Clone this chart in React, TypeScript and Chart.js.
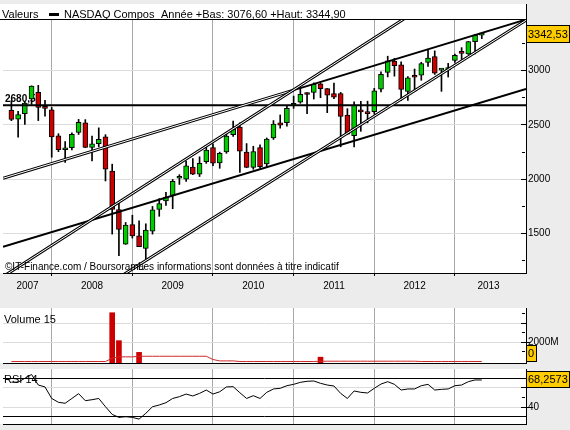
import React, { useEffect, useRef } from 'react';
import { Chart, registerables } from 'chart.js';

Chart.register(...registerables);

const FONT = '"Liberation Sans", Arial, sans-serif';

// ---------------- data ----------------
const months = [
  '2007-07', '2007-08', '2007-09', '2007-10', '2007-11', '2007-12',
  '2008-01', '2008-02', '2008-03', '2008-04', '2008-05', '2008-06', '2008-07', '2008-08', '2008-09', '2008-10', '2008-11', '2008-12',
  '2009-01', '2009-02', '2009-03', '2009-04', '2009-05', '2009-06', '2009-07', '2009-08', '2009-09', '2009-10', '2009-11', '2009-12',
  '2010-01', '2010-02', '2010-03', '2010-04', '2010-05', '2010-06', '2010-07', '2010-08', '2010-09', '2010-10', '2010-11', '2010-12',
  '2011-01', '2011-02', '2011-03', '2011-04', '2011-05', '2011-06', '2011-07', '2011-08', '2011-09', '2011-10', '2011-11', '2011-12',
  '2012-01', '2012-02', '2012-03', '2012-04', '2012-05', '2012-06', '2012-07', '2012-08', '2012-09', '2012-10', '2012-11', '2012-12',
  '2013-01', '2013-02', '2013-03', '2013-04', '2013-05',
];

const opens = [
  2635, 2554, 2605, 2741, 2800, 2660,
  2640, 2400, 2271, 2290, 2430, 2520, 2293, 2326, 2390, 2075, 1720, 1400,
  1580, 1476, 1360, 1520, 1720, 1800, 1850, 2008, 2000, 2110, 2045, 2160,
  2290, 2150, 2250, 2410, 2480, 2250, 2109, 2290, 2140, 2380, 2520, 2520,
  2680, 2710, 2790, 2800, 2880, 2835, 2790, 2790, 2590, 2400, 2625, 2622,
  2622, 2830, 2985, 3090, 3055, 2810, 2945, 2960, 3077, 3130, 3005, 3010,
  3095, 3165, 3155, 3268, 3329,
];

const highs = [
  2724, 2626, 2716, 2861, 2865, 2727,
  2661, 2419, 2346, 2426, 2551, 2549, 2396, 2473, 2410, 2138, 1792, 1600,
  1667, 1615, 1588, 1748, 1820, 1879, 1997, 2041, 2167, 2190, 2206, 2295,
  2326, 2249, 2424, 2535, 2520, 2328, 2303, 2317, 2380, 2540, 2592, 2675,
  2766, 2840, 2799, 2888, 2887, 2836, 2887, 2800, 2650, 2714, 2718, 2719,
  2838, 2989, 3134, 3114, 3083, 2945, 3016, 3078, 3196, 3183, 3020, 3068,
  3154, 3213, 3270, 3335, 3345,
];

const lows = [
  2539, 2386, 2505, 2690, 2540, 2581,
  2202, 2253, 2155, 2270, 2412, 2290, 2168, 2298, 1983, 1493, 1295, 1398,
  1456, 1377, 1265, 1493, 1657, 1757, 1727, 1951, 1979, 2041, 2024, 2145,
  2125, 2100, 2238, 2393, 2061, 2105, 2091, 2101, 2113, 2366, 2470, 2488,
  2653, 2700, 2603, 2739, 2751, 2613, 2743, 2298, 2414, 2298, 2441, 2519,
  2600, 2805, 2943, 2950, 2726, 2726, 2809, 2912, 3040, 2966, 2810, 2942,
  3077, 3105, 3150, 3154, 3296,
];

const closes = [
  2550, 2596, 2701, 2859, 2661, 2652,
  2389, 2271, 2279, 2413, 2523, 2293, 2326, 2368, 2092, 1721, 1536, 1577,
  1476, 1378, 1529, 1717, 1774, 1835, 1979, 2009, 2122, 2045, 2145, 2269,
  2147, 2238, 2398, 2461, 2257, 2109, 2255, 2114, 2369, 2507, 2498, 2653,
  2700, 2782, 2781, 2874, 2835, 2774, 2756, 2579, 2415, 2684, 2620, 2605,
  2814, 2967, 3092, 3046, 2827, 2935, 2940, 3067, 3116, 2977, 3010, 3020,
  3142, 3160, 3268, 3329, 3342.53,
];

// volume in millions
const volumes = [
  0, 0, 0, 0, 0, 0,
  0, 0, 0, 0, 0, 0, 0, 0, 0, 5080, 2170, 0,
  0, 950, 0, 0, 0, 0, 0, 0, 0, 0, 0, 0,
  0, 0, 0, 0, 0, 0, 0, 0, 0, 0, 0, 0,
  0, 0, 0, 0, 450, 0, 0, 0, 0, 0, 0, 0,
  0, 0, 0, 0, 0, 0, 0, 0, 0, 0, 0, 0,
  0, 0, 0, 0, 0,
];

const volumeMA15 = [
  0, 0, 0, 0, 0, 0,
  0, 0, 0, 0, 0, 0, 0, 0, 0, 339, 483, 483,
  483, 546, 546, 546, 546, 546, 546, 546, 546, 546, 546, 546,
  208, 63, 63, 63, 0, 0, 0, 0, 0, 0, 0, 0,
  0, 0, 0, 0, 30, 30, 30, 30, 30, 30, 30, 30,
  30, 30, 30, 30, 30, 30, 30, 0, 0, 0, 0, 0,
  0, 0, 0, 0, 0,
];

const rsi14 = [
  66, 66, 70, 74, 63, 61,
  49, 45, 44, 49, 54, 46.7, 47.7, 49, 40.4, 32.4, 29.3, 30,
  29.3, 27.5, 33.5, 40.4, 42.2, 44.6, 49, 50.9, 53.6, 51.6, 54.3, 57.8,
  53.6, 56, 61, 61.3, 55, 49, 51.9, 49, 55.4, 58.9, 59.6, 62.3,
  63.7, 65.8, 66.9, 67.2, 64.8, 63, 62, 54.3, 49, 56.8, 55.4, 54.7,
  59.6, 64, 66.5, 63.7, 57.8, 58.9, 58.9, 62.3, 63.7, 57.8, 58.5, 58.9,
  62.3, 63, 66.5, 68.3, 68.2573,
];

const yearLabels = ['2007', '2008', '2009', '2010', '2011', '2012', '2013'];
const yearLabelPos = [-3.6, 6, 18, 30, 42, 54, 65];
const yearStarts = [0, 12, 24, 36, 48, 60];

const priceTicks = [1500, 2000, 2500, 3000];
const priceMinorTicks = [1250, 1750, 2250, 2750, 3250];
const volumeTicks = [2000, 4000];
const volumeMinorTicks = [1000, 3000, 5000];
const rsiTicks = [30, 40, 60, 70];
const rsiMinorTicks = [50];

const levelValue = 2680.58;
const supportLine = [[-7.25, 1376], [70.58, 2833]];
const channelLeft = [[-7.25, 2008], [36, 2821]];
const channelRight = [[36, 2821], [70.58, 3472]];
const steepLine = [[-7.25, 1100], [70.58, 4202]];
const steepLine2 = [[10, 1092], [70.58, 3465]];

const legendLabel = 'Valeurs';
const seriesName = 'NASDAQ Compos';
const rangeText = 'Année +Bas: 3076,60 +Haut: 3344,90';
const copyright1 = '©IT-Finance.com / Boursorama';
const copyright2 = 'Les informations sont données à titre indicatif';

// ---------------- styling ----------------
const X_MIN = -7.25;
const X_MAX = 70.58;
const P_MIN = 1134;
const P_MAX = 3468;
const V_MIN = -156;
const V_MAX = 5573;
const R_MIN = 22.4;
const R_MAX = 79.7;

const GREEN = '#00cc00';
const RED = '#cc0000';
const GRID_V = '#a8a8a8';
const GRID_H = '#dcdcdc';
const BOX = '#ffcc00';
const BG = '#ececec';

function monthIndex(s: string) {
  const [y, m] = s.split('-').map(Number);
  return (y - 2008) * 12 + (m - 1);
}
const xs = months.map(monthIndex);

const fmt = (v: number, d: number) => v.toFixed(d).replace('.', ',');

function segment(pts: number[][]) {
  return pts.map(([x, y]) => ({ x, y }));
}

function lineDs(pts: number[][], color: string, width: number, order: number) {
  return {
    type: 'line',
    data: segment(pts),
    borderColor: color,
    borderWidth: width,
    pointRadius: 0,
    tension: 0,
    fill: false,
    borderCapStyle: 'butt',
    order,
  };
}

function xAxis(height: number, withLabels: boolean) {
  const ticksVals = withLabels
    ? [...yearStarts, ...yearLabelPos].sort((a, b) => a - b)
    : yearStarts.slice();
  return {
    type: 'linear',
    min: X_MIN,
    max: X_MAX,
    offset: false,
    afterBuildTicks: (s: any) => {
      s.ticks = ticksVals.map((v) => ({ value: v }));
    },
    afterFit: (s: any) => {
      s.height = height;
      s.paddingLeft = 0;
      s.paddingRight = 0;
    },
    ticks: {
      display: withLabels,
      autoSkip: false,
      maxRotation: 0,
      minRotation: 0,
      padding: 4,
      color: '#000',
      font: { family: FONT, size: 10 },
      callback: (v: any) => {
        const k = yearLabelPos.indexOf(v);
        return k >= 0 ? yearLabels[k] : '';
      },
    },
    grid: {
      offset: false,
      drawTicks: withLabels,
      tickLength: 3,
      lineWidth: 1,
      color: (c: any) => (c.tick && yearStarts.includes(c.tick.value) ? GRID_V : 'rgba(0,0,0,0)'),
      tickColor: (c: any) => (c.tick && yearStarts.includes(c.tick.value) ? '#000' : 'rgba(0,0,0,0)'),
    },
    border: { color: '#000', width: 1 },
  };
}

function yAxis(min: number, max: number, ticks: number[], label: (v: number) => string, gridColor: (v: number) => string) {
  return {
    type: 'linear',
    position: 'right',
    min,
    max,
    afterBuildTicks: (s: any) => {
      s.ticks = ticks.map((v) => ({ value: v }));
    },
    afterFit: (s: any) => {
      s.width = 44;
      s.paddingTop = 0;
      s.paddingBottom = 0;
    },
    ticks: {
      padding: 2,
      color: '#000',
      font: { family: FONT, size: 10 },
      callback: (v: any) => label(v),
    },
    grid: {
      drawTicks: false,
      lineWidth: 1,
      color: (c: any) => (c.tick ? gridColor(c.tick.value) : GRID_H),
    },
    border: { color: '#000', width: 1 },
  };
}

function innerTicks(ctx: CanvasRenderingContext2D, chart: any, majors: number[], minors: number[], outside: number[]) {
  const s = chart.scales.y;
  const r = chart.chartArea.right;
  ctx.fillStyle = '#000';
  majors.forEach((v) => {
    const y = Math.round(s.getPixelForValue(v) - 0.5);
    ctx.fillRect(r - 5, y, 5, 1);
  });
  outside.forEach((v) => {
    const y = Math.round(s.getPixelForValue(v) - 0.5);
    ctx.fillRect(r, y, 4, 1);
  });
  minors.forEach((v) => {
    const y = Math.round(s.getPixelForValue(v) - 0.5);
    ctx.fillRect(r - 4, y, 3, 1);
  });
}

function valueBox(ctx: CanvasRenderingContext2D, x: number, top: number, w: number, h: number, text: string) {
  ctx.fillStyle = BOX;
  ctx.fillRect(x, top, w, h);
  ctx.strokeStyle = '#000';
  ctx.lineWidth = 1;
  ctx.strokeRect(x + 0.5, top + 0.5, w - 1, h - 1);
  ctx.fillStyle = '#000';
  ctx.font = `11px ${FONT}`;
  ctx.textBaseline = 'middle';
  ctx.textAlign = 'left';
  ctx.fillText(text, x + 2, top + h / 2 + 0.5);
}

const mainPlugin = {
  id: 'mainDeco',
  beforeDraw(chart: any) {
    const { ctx, chartArea: a } = chart;
    ctx.save();
    ctx.fillStyle = '#fff';
    ctx.fillRect(0, 4, a.right, a.bottom - 4);
    ctx.fillStyle = '#000';
    ctx.font = `11px ${FONT}`;
    ctx.textBaseline = 'alphabetic';
    ctx.textAlign = 'left';
    ctx.fillText(legendLabel, 2, 18);
    ctx.fillRect(49, 13, 10, 3);
    ctx.fillText(seriesName, 64, 18);
    ctx.fillText(rangeText, 161, 18);
    ctx.fillRect(0, a.top - 1, a.right, 1);
    ctx.restore();
  },
  beforeDatasetsDraw(chart: any) {
    const { ctx } = chart;
    const y = chart.scales.y.getPixelForValue(levelValue);
    ctx.save();
    ctx.fillStyle = '#000';
    ctx.font = `bold 10px ${FONT}`;
    ctx.textBaseline = 'alphabetic';
    ctx.fillText(fmt(levelValue, 2), 5, y - 3);
    ctx.restore();
  },
  afterDatasetsDraw(chart: any) {
    const { ctx, chartArea: a } = chart;
    ctx.save();
    ctx.fillStyle = '#000';
    ctx.font = `10px ${FONT}`;
    ctx.textBaseline = 'alphabetic';
    ctx.fillText(copyright1, 5, a.bottom - 3);
    ctx.fillText(copyright2, 138, a.bottom - 3);
    ctx.fillRect(a.right, 4, 1, a.top - 4);
    innerTicks(ctx, chart, priceTicks, priceMinorTicks, []);
    const last = closes[closes.length - 1];
    const yb = chart.scales.y.getPixelForValue(last);
    valueBox(ctx, a.right, Math.round(yb - 9), 44, 18, fmt(last, 2));
    ctx.restore();
  },
};

const volPlugin = {
  id: 'volDeco',
  beforeDraw(chart: any) {
    const { ctx, chartArea: a } = chart;
    ctx.save();
    ctx.fillStyle = '#fff';
    ctx.fillRect(0, a.top, a.right, a.bottom - a.top);
    ctx.restore();
  },
  beforeDatasetsDraw(chart: any) {
    const { ctx, chartArea: a } = chart;
    ctx.save();
    ctx.fillStyle = '#000';
    ctx.font = `11px ${FONT}`;
    ctx.textBaseline = 'alphabetic';
    ctx.fillText('Volume 15', 4, a.top + 15);
    ctx.restore();
  },
  afterDatasetsDraw(chart: any) {
    const { ctx, chartArea: a } = chart;
    ctx.save();
    innerTicks(ctx, chart, volumeTicks, volumeMinorTicks, [2000]);
    const last = volumes[volumes.length - 1];
    const y0 = chart.scales.y.getPixelForValue(last);
    valueBox(ctx, a.right, Math.round(y0 - 16.5), 11, 17, String(last));
    ctx.restore();
  },
};

const rsiPlugin = {
  id: 'rsiDeco',
  beforeDraw(chart: any) {
    const { ctx, chartArea: a } = chart;
    ctx.save();
    ctx.fillStyle = '#fff';
    ctx.fillRect(0, a.top, a.right, a.bottom - a.top);
    ctx.restore();
  },
  beforeDatasetsDraw(chart: any) {
    const { ctx, chartArea: a } = chart;
    ctx.save();
    ctx.fillStyle = '#000';
    ctx.font = `11px ${FONT}`;
    ctx.textBaseline = 'alphabetic';
    ctx.fillText('RSI 14', 4, a.top + 14);
    ctx.restore();
  },
  afterDatasetsDraw(chart: any) {
    const { ctx, chartArea: a } = chart;
    ctx.save();
    innerTicks(ctx, chart, [40, 60], rsiMinorTicks, [40]);
    const last = rsi14[rsi14.length - 1];
    const y = chart.scales.y.getPixelForValue(last);
    valueBox(ctx, a.right, Math.round(y - 8.5), 44, 17, fmt(last, 4));
    ctx.restore();
  },
};

const baseOptions = {
  responsive: false,
  maintainAspectRatio: false,
  animation: false,
  devicePixelRatio: 1,
  events: [],
  plugins: { legend: { display: false }, tooltip: { enabled: false } },
};

export default function App() {
  const mainRef = useRef<HTMLCanvasElement>(null);
  const volRef = useRef<HTMLCanvasElement>(null);
  const rsiRef = useRef<HTMLCanvasElement>(null);

  useEffect(() => {
    const candleColors = closes.map((c, i) => (c >= opens[i] ? GREEN : RED));

    const main = new Chart(mainRef.current as HTMLCanvasElement, {
      type: 'bar',
      data: {
        datasets: [
          {
            type: 'bar',
            data: xs.map((x, i) => ({ x, y: [lows[i], highs[i]] })),
            backgroundColor: '#000',
            borderWidth: 0,
            barThickness: 1,
            grouped: false,
            order: 20,
          },
          {
            type: 'bar',
            data: xs.map((x, i) => ({ x, y: [opens[i], closes[i]] })),
            backgroundColor: candleColors,
            borderColor: '#000',
            borderWidth: 1,
            borderSkipped: false,
            barThickness: 5,
            minBarLength: 2,
            grouped: false,
            order: 19,
          },
          lineDs([[X_MIN, levelValue], [X_MAX, levelValue]], '#000', 2, 10),
          lineDs(supportLine, '#000', 2, 9),
          lineDs(channelRight, '#000', 2, 8),
          lineDs(channelLeft, '#000', 3, 7),
          lineDs(channelLeft, '#fff', 1, 6),
          lineDs(steepLine, '#000', 3, 5),
          lineDs(steepLine, '#fff', 1, 4),
          lineDs(steepLine2, '#000', 3, 3),
          lineDs(steepLine2, '#fff', 1, 2),
        ],
      } as any,
      options: {
        ...baseOptions,
        layout: { padding: { left: 3, top: 20, right: 0, bottom: 0 } },
        scales: {
          x: xAxis(27, true),
          y: yAxis(P_MIN, P_MAX, priceTicks, (v) => String(v), () => GRID_H),
        },
      } as any,
      plugins: [mainPlugin],
    });

    const vol = new Chart(volRef.current as HTMLCanvasElement, {
      type: 'bar',
      data: {
        datasets: [
          {
            type: 'bar',
            data: xs.map((x, i) => ({ x, y: volumes[i] > 0 ? [V_MIN, volumes[i]] : null })),
            backgroundColor: RED,
            borderWidth: 0,
            barThickness: 5,
            grouped: false,
            order: 2,
          },
          {
            type: 'line',
            data: xs.map((x, i) => ({ x, y: volumeMA15[i] })),
            borderColor: '#d02828',
            borderWidth: 1,
            pointRadius: 0,
            tension: 0,
            fill: false,
            order: 1,
          },
        ],
      } as any,
      options: {
        ...baseOptions,
        layout: { padding: { left: 3, top: 8, right: 0, bottom: 0 } },
        scales: {
          x: xAxis(3, false),
          y: yAxis(V_MIN, V_MAX, volumeTicks, (v) => (v === 2000 ? '2000M' : ''), () => GRID_H),
        },
      } as any,
      plugins: [volPlugin],
    });

    const rsi = new Chart(rsiRef.current as HTMLCanvasElement, {
      type: 'line',
      data: {
        datasets: [
          {
            type: 'line',
            data: xs.map((x, i) => ({ x, y: rsi14[i] })),
            borderColor: '#000',
            borderWidth: 1,
            pointRadius: 0,
            tension: 0,
            fill: false,
          },
        ],
      } as any,
      options: {
        ...baseOptions,
        layout: { padding: { left: 3, top: 3, right: 0, bottom: 0 } },
        scales: {
          x: xAxis(6, false),
          y: yAxis(R_MIN, R_MAX, rsiTicks, (v) => (v === 40 ? '40' : ''), (v) => (v === 30 || v === 70 ? '#000' : GRID_H)),
        },
      } as any,
      plugins: [rsiPlugin],
    });

    return () => {
      main.destroy();
      vol.destroy();
      rsi.destroy();
    };
  }, []);

  return (
    <div style={{ position: 'absolute', left: 0, top: 0, width: 570, height: 430, background: BG, overflow: 'hidden' }}>
      <canvas ref={mainRef} width={570} height={300} style={{ position: 'absolute', left: 0, top: 0 }} />
      <canvas ref={volRef} width={570} height={66} style={{ position: 'absolute', left: 0, top: 300 }} />
      <canvas ref={rsiRef} width={570} height={64} style={{ position: 'absolute', left: 0, top: 366 }} />
    </div>
  );
}
